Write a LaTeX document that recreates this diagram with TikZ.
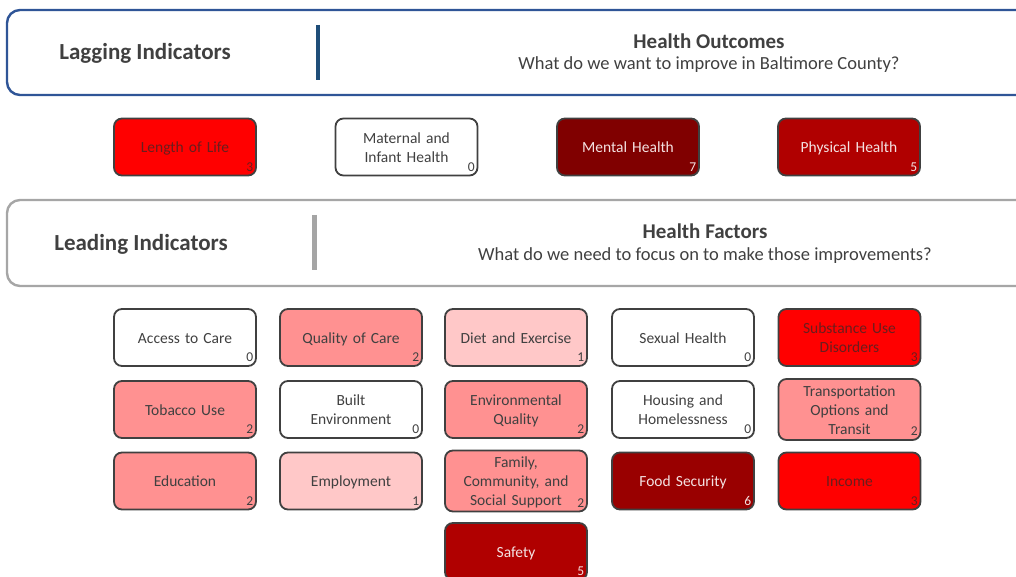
\documentclass[tikz,border=0pt]{standalone}
\usepackage{fontspec}
\setmainfont{Carlito}
\definecolor{txt}{HTML}{404040}
\definecolor{bord}{HTML}{404040}
\definecolor{frameblue}{HTML}{2F5597}
\definecolor{divblue}{HTML}{1F4E79}
\definecolor{framegray}{HTML}{A6A6A6}
\definecolor{divgray}{HTML}{A5A5A5}
\definecolor{cWhite}{HTML}{FFFFFF}
\definecolor{cLight}{HTML}{FFC8C8}
\definecolor{cMed}{HTML}{FF9191}
\definecolor{cRed}{HTML}{FF0000}
\definecolor{cDark}{HTML}{800000}
\definecolor{cDarkB}{HTML}{990000}
\definecolor{cDarkC}{HTML}{B00000}
\definecolor{onred}{RGB}{105,30,30}
\definecolor{ondark}{HTML}{F4E2E2}
\tikzset{
  x=1pt, y=-1pt,
  fbox/.style={draw=bord, line width=1.8pt, rounded corners=8pt,
    minimum width=142pt, minimum height=57pt, text width=138pt, align=center,
    inner sep=0pt, font=\fontsize{15.5}{19}\selectfont,
    execute at begin node={\rule{0pt}{17.3pt}}, execute at end node=\strut},
  cntlab/.style={anchor=south east, inner sep=0pt, font=\fontsize{13.5}{13.5}\selectfont},
  w0/.style={fbox, fill=cWhite, text=txt},
  w1/.style={fbox, fill=cLight, text=txt},
  w2/.style={fbox, fill=cMed, text=txt},
  w3/.style={fbox, fill=cRed, text=onred},
  wd/.style={fbox, fill=cDark, text=ondark},
  wdb/.style={fbox, fill=cDarkB, text=ondark},
  wdc/.style={fbox, fill=cDarkC, text=ondark},
  frame/.style={line width=2.4pt, rounded corners=13pt, fill=white},
  ttl/.style={text=txt, font=\fontsize{23}{23}\selectfont\bfseries},
  head/.style={text=txt, font=\fontsize{21}{21}\selectfont\bfseries},
  sub/.style={text=txt, font=\fontsize{18.5}{18.5}\selectfont},
}
\newcommand\cnt[3][txt]{\node[cntlab, text=#1] (#2-n) at ([xshift=-3.5pt,yshift=5pt]#2.south east) {#3};}
\begin{document}
\begin{tikzpicture}
\useasboundingbox (0,0) rectangle (1016,577);
% frames
\draw[frame, draw=frameblue] (7,10) rectangle (1040,95);
\draw[divblue, line width=4pt] (318,25) coordinate (d1a) -- (318,80) coordinate (d1b);
\node[ttl] (lag) at (145,53) {Lagging Indicators};
\node[head] (ho) at (709,41) {Health Outcomes};
\node[sub] (hos) at (709,65) {What do we want to improve in Baltimore County?};

\draw[frame, draw=framegray] (7,200) rectangle (1040,286);
\draw[divgray, line width=5pt] (314,215) coordinate (d2a) -- (314,270) coordinate (d2b);
\node[ttl] (lead) at (141,244) {Leading Indicators};
\node[head] (hf) at (705,231) {Health Factors};
\node[sub] (hfs) at (705,256) {What do we need to focus on to make those improvements?};

% outcomes
\node[w3] (lol) at (185,147) {Length of Life};            \cnt[onred]{lol}{3}
\node[w0] (mih) at (406.5,147) {Maternal and\\Infant Health}; \cnt{mih}{0}
\node[wd] (mh) at (628,147) {Mental Health};              \cnt[ondark]{mh}{7}
\node[wdc] (ph) at (849,147) {Physical Health};           \cnt[ondark]{ph}{5}

% factors
\node[w0] (atc) at (185,337.5) {Access to Care};          \cnt{atc}{0}
\node[w2] (qoc) at (351,337.5) {Quality of Care};         \cnt{qoc}{2}
\node[w1] (dae) at (516,337.5) {Diet and Exercise};       \cnt{dae}{1}
\node[w0] (sh) at (683,337.5) {Sexual Health};            \cnt{sh}{0}
\node[w3] (sud) at (849.5,337.5) {Substance Use\\Disorders}; \cnt[onred]{sud}{3}

\node[w2] (tob) at (185,409.5) {Tobacco Use};             \cnt{tob}{2}
\node[w0] (be) at (351,409.5) {Built\\Environment};       \cnt{be}{0}
\node[w2] (eq) at (516,409.5) {Environmental\\Quality};   \cnt{eq}{2}
\node[w0] (hh) at (683,409.5) {Housing and\\Homelessness}; \cnt{hh}{0}
\node[w2] (tr) at (849.5,409.5) {Transportation\\Options and\\Transit}; \cnt{tr}{2}

\node[w2] (edu) at (185,481) {Education};                 \cnt{edu}{2}
\node[w1] (emp) at (351,481) {Employment};                \cnt{emp}{1}
\node[w2] (fam) at (516,481) {Family,\\Community, and\\Social Support}; \cnt{fam}{2}
\node[wdb] (fs) at (683,481) {Food Security};             \cnt[ondark]{fs}{6}
\node[w3] (inc) at (849.5,481) {Income};                  \cnt[onred]{inc}{3}

\node[wdc] (saf) at (516,551.5) {Safety};                 \cnt[ondark]{saf}{5}
\end{tikzpicture}
\end{document}
